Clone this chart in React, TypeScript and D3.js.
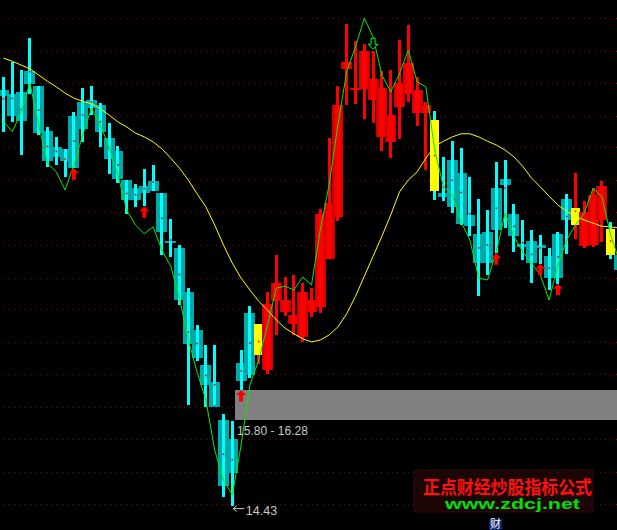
import React from "react";
import * as d3 from "d3";

const W = 617;
const H = 530;

// OHLC, one entry per trading day (index 0..70)
const opens = [
  21.08, 21.02, 21.05, 21.38, 21.14, 20.42, 20.17, 20.14, 20.66, 20.89,
  20.92, 20.84, 20.31, 20.10, 19.64, 19.51, 19.54, 19.62, 19.43, 18.66,
  18.55, 17.85, 17.24, 16.68, 16.41, 15.80, 15.50, 16.71, 17.51, 16.84,
  16.60, 17.70, 17.53, 17.34, 17.13, 17.53, 17.61, 18.38, 19.05, 21.42,
  21.08, 21.10, 20.92, 20.33, 20.25, 20.81, 21.02, 20.71, 20.71, 20.60,
  19.43, 19.96, 19.75, 19.08, 18.78, 18.81, 19.51, 19.66, 19.10, 18.62,
  18.66, 18.60, 18.42, 18.78, 19.34, 18.92, 18.58, 18.60, 19.00, 18.86, 18.44,
];
const closes = [
  20.98, 20.66, 20.58, 21.18, 20.39, 19.94, 20.01, 19.94, 19.83, 20.46,
  20.79, 20.41, 19.98, 19.66, 19.32, 19.32, 19.43, 19.46, 18.81, 18.63,
  17.72, 17.02, 16.79, 16.36, 16.01, 14.74, 14.95, 16.42, 16.52, 17.34,
  17.66, 17.99, 17.72, 17.48, 17.85, 17.72, 19.10, 19.27, 20.84, 21.53,
  21.11, 21.70, 21.26, 21.11, 20.68, 21.19, 21.51, 21.08, 20.84, 19.46,
  19.37, 19.21, 18.94, 18.90, 18.31, 18.31, 18.84, 19.56, 18.74, 18.57,
  18.31, 18.55, 18.07, 18.07, 19.00, 19.19, 19.13, 19.40, 19.54, 18.44, 18.20,
];
const highs = [
  21.29, 21.53, 21.40, 21.91, 21.14, 20.49, 20.33, 20.14, 20.73, 21.11,
  21.14, 20.87, 20.55, 20.18, 19.64, 19.58, 19.82, 19.88, 19.43, 19.02,
  18.60, 17.91, 17.32, 17.00, 17.00, 15.90, 15.78, 16.92, 17.62, 17.34,
  17.85, 18.44, 18.09, 18.12, 17.99, 17.91, 19.18, 20.31, 21.14, 22.14,
  21.86, 21.82, 21.70, 21.38, 21.40, 21.88, 22.12, 21.29, 20.89, 20.74,
  20.01, 20.26, 20.15, 19.69, 19.34, 19.16, 19.93, 19.96, 19.26, 19.00,
  18.84, 18.76, 18.55, 18.81, 19.42, 19.75, 19.30, 19.51, 19.62, 18.97, 18.52,
];
const lows = [
  20.41, 20.57, 20.04, 21.02, 20.36, 19.85, 19.88, 19.69, 19.83, 20.25,
  20.68, 20.17, 19.74, 19.59, 19.10, 19.21, 19.22, 19.46, 18.44, 18.41,
  17.64, 16.04, 16.74, 16.01, 16.04, 14.57, 14.43, 16.28, 16.47, 16.70,
  16.54, 17.16, 17.46, 17.16, 17.05, 17.45, 17.51, 18.38, 18.98, 20.84,
  20.86, 20.62, 20.55, 20.10, 19.99, 20.30, 20.89, 20.50, 19.80, 19.32,
  19.30, 19.11, 18.92, 18.74, 17.78, 18.12, 18.47, 18.87, 18.49, 18.36,
  17.99, 18.30, 17.88, 17.98, 18.46, 18.70, 18.55, 18.57, 18.65, 18.38, 18.12,
];

// yellow moving-average line
const maLine = [
  21.59, 21.54, 21.48, 21.42, 21.32, 21.22, 21.13, 21.03, 20.95, 20.90,
  20.86, 20.78, 20.68, 20.57, 20.49, 20.39, 20.33, 20.25, 20.14, 19.99,
  19.83, 19.64, 19.42, 19.21, 18.92, 18.60, 18.31, 18.07, 17.88, 17.70,
  17.56, 17.40, 17.27, 17.18, 17.10, 17.05, 17.08, 17.16, 17.29, 17.50,
  17.78, 18.10, 18.42, 18.74, 19.08, 19.45, 19.64, 19.77, 19.99, 20.18,
  20.26, 20.33, 20.38, 20.38, 20.33, 20.26, 20.20, 20.12, 20.01, 19.86,
  19.67, 19.53, 19.38, 19.24, 19.14, 19.06, 19.00, 18.95, 18.90, 18.89, 18.87,
];

// green trend line
const trendLine = [
  20.58, 20.41, 20.73, 21.19, 20.52, 19.91, 19.77, 19.48, 19.88, 20.36,
  20.79, 20.52, 20.17, 19.72, 19.16, 18.92, 18.78, 18.89, 18.52, 18.26,
  17.75, 17.08, 16.57, 16.12, 15.32, 14.84, 14.60, 15.40, 16.36, 16.76,
  17.32, 17.91, 17.94, 17.88, 18.09, 17.96, 18.84, 19.56, 20.52, 21.37,
  21.77, 22.23, 21.93, 21.32, 21.05, 21.34, 21.72, 21.21, 21.13, 20.12,
  19.53, 19.40, 18.97, 18.68, 18.07, 18.04, 18.49, 19.11, 18.74, 18.49,
  18.31, 18.12, 17.72, 18.28, 18.68, 18.92, 19.11, 19.51, 19.37, 18.76, 18.33,
];

const markIdx = [29, 49, 65, 69]; // yellow signal candles
const upArrowIdx = [8, 16, 27, 56, 61, 63];
const downArrowIdx = [42];

const gridPrices = [
  22.23, 21.71, 21.19, 20.67, 20.16, 19.64, 19.12, 18.6,
  18.08, 17.57, 17.05, 16.53, 16.01, 15.49, 14.97, 14.46,
];

const zoneLow = 15.8;
const zoneHigh = 16.28;
const zoneStartIdx = 26;
const zoneLabel = "15.80 - 16.28";
const lowIdx = 26;
const lowLabel = "14.43";

const x = d3.scaleLinear().domain([0, 69]).range([3.5, 610.7]);
const y = d3.scaleLinear().domain([14.04, 22.52]).range([530, 0]);

const TEAL = "#00a8a8";
const CYAN = "#00ffff";
const RED = "#ff0000";
const YELLOW = "#ffff00";

export default function App() {
  const idx = d3.range(opens.length);
  const line = d3
    .line<number>()
    .x((_, i) => x(i))
    .y((d) => y(d));

  const bodyW = 11;
  const markW = 9;
  const wickW = 3;

  const candles = idx.map((i) => {
    const cx = x(i);
    const up = closes[i] >= opens[i];
    const isMark = markIdx.includes(i);
    const top = y(Math.max(opens[i], closes[i]));
    const bot = y(Math.min(opens[i], closes[i]));
    const hTop = y(highs[i]);
    const hBot = y(lows[i]);
    const wickColor = up ? RED : CYAN;
    const wick = (
      <rect
        key="w"
        x={cx - wickW / 2}
        y={hTop}
        width={wickW}
        height={Math.max(1, hBot - hTop)}
        fill={wickColor}
      />
    );
    if (isMark) {
      return (
        <g key={i} shapeRendering="crispEdges">
          {wick}
          <rect
            x={cx - markW / 2}
            y={top}
            width={markW}
            height={Math.max(1, bot - top)}
            fill={YELLOW}
          />
        </g>
      );
    }
    return (
      <g key={i} shapeRendering="crispEdges">
        <rect
          x={cx - bodyW / 2}
          y={top}
          width={bodyW}
          height={Math.max(1.5, bot - top)}
          fill={up ? "url(#redBody)" : TEAL}
        />
        {wick}
      </g>
    );
  });

  const dots = idx.map((i) => {
    const v = (opens[i] + closes[i] + highs[i] + lows[i]) / 4;
    return (
      <rect
        key={i}
        x={x(i) - 0.8}
        y={y(v) - 0.8}
        width={1.6}
        height={1.6}
        fill={RED}
      />
    );
  });

  const upArrows = upArrowIdx.map((i) => {
    const cx = x(i);
    const t = y(lows[i]);
    const p = `M${cx},${t} L${cx + 5},${t + 5} L${cx + 2},${t + 5} L${cx + 2},${t + 11.5} L${cx - 2},${t + 11.5} L${cx - 2},${t + 5} L${cx - 5},${t + 5} Z`;
    return <path key={i} d={p} fill={RED} />;
  });

  const downArrows = downArrowIdx.map((i) => {
    const cx = x(i);
    const t = y(highs[i]) - 2;
    const p = `M${cx},${t} L${cx + 5},${t - 5} L${cx + 2},${t - 5} L${cx + 2},${t - 11} L${cx - 2},${t - 11} L${cx - 2},${t - 5} L${cx - 5},${t - 5} Z`;
    return (
      <path key={i} d={p} fill="#000" stroke="#00ff00" strokeWidth={1} />
    );
  });

  const zx0 = x(zoneStartIdx) + 3;
  const zy0 = y(zoneHigh);
  const zy1 = y(zoneLow);
  const lowY = y(lows[lowIdx]);
  const lx = x(lowIdx);

  return (
    <svg
      width={W}
      height={H}
      style={{ position: "absolute", left: 0, top: 0, display: "block" }}
    >
      <defs>
        <linearGradient id="redBody" x1="0" x2="1" y1="0" y2="0">
          <stop offset="0" stopColor="#c00000" />
          <stop offset="0.35" stopColor="#ff0000" />
          <stop offset="0.7" stopColor="#ff0000" />
          <stop offset="1" stopColor="#c80000" />
        </linearGradient>
      </defs>
      <rect width={W} height={H} fill="#000" />
      {gridPrices.map((p, k) => (
        <line
          key={k}
          x1={3}
          x2={W}
          y1={Math.round(y(p)) + 0.5}
          y2={Math.round(y(p)) + 0.5}
          stroke="#900000"
          strokeWidth={1}
          strokeDasharray="1 4.33"
          shapeRendering="crispEdges"
        />
      ))}
      {candles}
      {dots}
      <rect
        x={zx0}
        y={zy0}
        width={W - zx0}
        height={zy1 - zy0}
        fill="#808080"
        shapeRendering="crispEdges"
      />
      <path d={line(maLine) || ""} fill="none" stroke={YELLOW} strokeWidth={1} />
      <path d={line(trendLine) || ""} fill="none" stroke="#00ee00" strokeWidth={1} />
      {upArrows}
      {downArrows}
      <text
        x={237}
        y={zy1 + 14.5}
        fill="#c8c8c8"
        fontFamily="Liberation Sans, Arial, sans-serif"
        fontSize={12.5}
        textLength={71}
        lengthAdjust="spacingAndGlyphs"
      >
        {zoneLabel}
      </text>
      <g stroke="#c8c8c8" strokeWidth={1} fill="none">
        <line x1={lx + 0.5} x2={lx + 12} y1={lowY + 3} y2={lowY + 3} />
        <path d={`M${lx + 4.5},${lowY} L${lx + 1},${lowY + 3} L${lx + 4.5},${lowY + 6}`} />
      </g>
      <text
        x={lx + 13.5}
        y={lowY + 9}
        fill="#c8c8c8"
        fontFamily="Liberation Sans, Arial, sans-serif"
        fontSize={12.5}
      >
        {lowLabel}
      </text>
      <rect x={414} y={470} width={179} height={42} fill="#1c0505" stroke="#2c0c0c" />
      <text
        x={423}
        y={494}
        fill="#ff1010"
        fontFamily="Noto Sans CJK SC, sans-serif"
        fontWeight="bold"
        fontSize={18.5}
        textLength={169}
        lengthAdjust="spacingAndGlyphs"
      >
        正点财经炒股指标公式
      </text>
      <text
        x={445}
        y={508.5}
        fill="#00e000"
        fontFamily="Liberation Sans, Arial, sans-serif"
        fontWeight="bold"
        fontSize={14}
        textLength={135}
        lengthAdjust="spacingAndGlyphs"
      >
        www.zdcj.net
      </text>
      <rect x={489} y={519} width={13} height={11} fill="#0a246a" />
      <text
        x={490}
        y={528}
        fill="#ffffff"
        fontFamily="Noto Sans CJK SC, sans-serif"
        fontSize={11}
      >
        财
      </text>
    </svg>
  );
}
